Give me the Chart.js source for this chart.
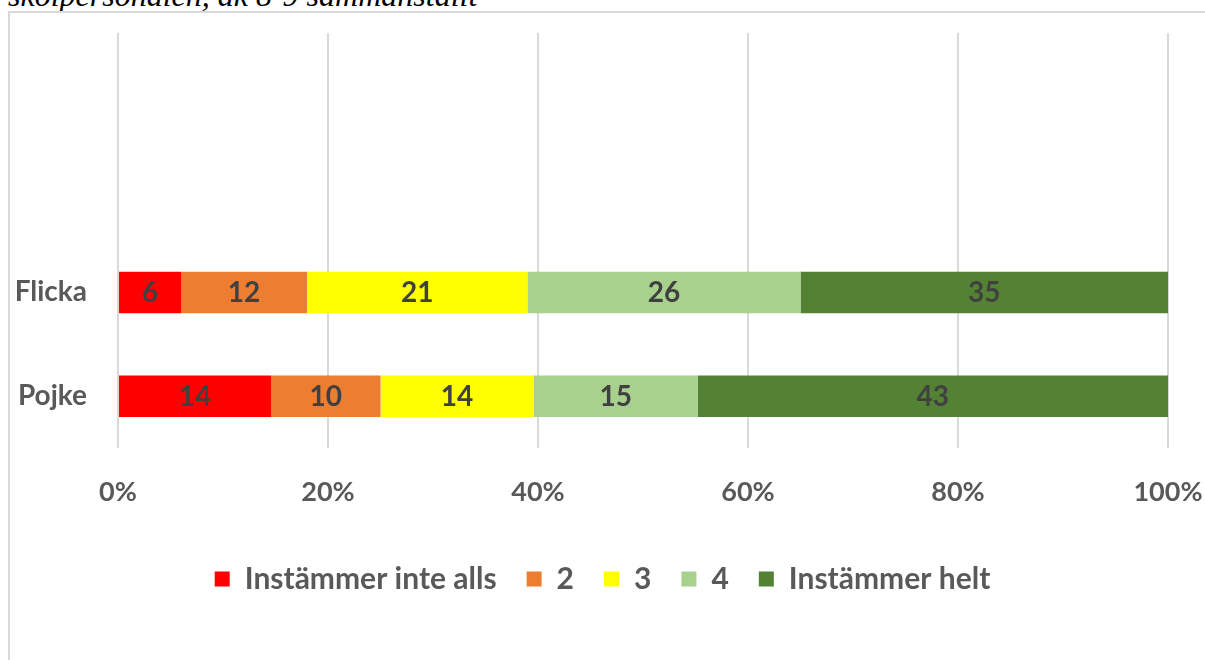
<!DOCTYPE html>
<html>
<head>
<meta charset="utf-8">
<script src="https://cdn.jsdelivr.net/npm/chart.js@4"></script>
<style>
  html, body { margin: 0; padding: 0; background: #fff; overflow: hidden; }
  #wrap { position: relative; width: 1205px; height: 660px; overflow: hidden; }
  #title { position: absolute; left: 8px; top: -21px; font: italic 32px 'Liberation Serif', 'DejaVu Serif', serif; white-space: nowrap; color: #000; line-height: 32px; }
  #frame { position: absolute; left: 8px; top: 11px; width: 1300px; height: 700px; border: 2px solid #d9d9d9; box-sizing: border-box; }
  #chart { position: absolute; left: 0; top: 0; }
</style>
</head>
<body>
<div id="wrap">
  <div id="title">skolpersonalen, åk 8-9 sammanställt</div>
  <div id="frame"></div>
  <canvas id="chart" width="1205" height="660"></canvas>
</div>
<script>
// Categories (two empty slots above, as in the source chart)
const categories = ['', '', 'Flicka', 'Pojke'];
const seriesNames = ['Instämmer inte alls', '2', '3', '4', 'Instämmer helt'];
const seriesColors = ['#FF0000', '#ED7D31', '#FFFF00', '#A9D18E', '#548235'];

// Values per answer (labels shown as-is, bars stacked to 100%)
const instammerInteAlls = [null, null, 6, 14];
const svar2 = [null, null, 12, 10];
const svar3 = [null, null, 21, 14];
const svar4 = [null, null, 26, 15];
const instammerHelt = [null, null, 35, 43];

const xTicks = [0, 20, 40, 60, 80, 100];

const seriesValues = [instammerInteAlls, svar2, svar3, svar4, instammerHelt];

// totals per category for 100% stacking
const totals = categories.map((c, j) =>
  seriesValues.reduce((s, arr) => s + (arr[j] || 0), 0));

const fontFamily = 'Lato, "Open Sans", sans-serif';
const axisFont = { family: fontFamily, size: 27, weight: 'bold' };

const valueLabels = {
  id: 'valueLabels',
  afterDatasetsDraw(chart) {
    const ctx = chart.ctx;
    ctx.save();
    ctx.font = 'bold 28px ' + fontFamily;
    ctx.fillStyle = '#404040';
    ctx.textAlign = 'center';
    ctx.textBaseline = 'middle';
    chart.data.datasets.forEach((ds, i) => {
      const meta = chart.getDatasetMeta(i);
      meta.data.forEach((bar, j) => {
        const raw = seriesValues[i][j];
        if (raw == null) return;
        const p = bar.getProps(['x', 'base', 'y'], true);
        ctx.fillText(String(raw), (p.x + p.base) / 2, p.y + 1);
      });
    });
    ctx.restore();
  }
};

new Chart(document.getElementById('chart'), {
  type: 'bar',
  data: {
    labels: categories,
    datasets: seriesNames.map((name, i) => ({
      label: name,
      data: seriesValues[i].map((v, j) => v == null ? null : v / totals[j] * 100),
      backgroundColor: seriesColors[i],
      borderWidth: 0,
      categoryPercentage: 1,
      barPercentage: 0.4
    }))
  },
  options: {
    indexAxis: 'y',
    responsive: false,
    animation: false,
    layout: { padding: { top: 33, left: 0, right: 0, bottom: 56 } },
    plugins: {
      legend: {
        position: 'bottom',
        labels: {
          font: { family: fontFamily, size: 30, weight: 'bold' },
          color: '#595959',
          boxWidth: 15,
          boxHeight: 15,
          padding: 30
        }
      },
      tooltip: { enabled: false }
    },
    scales: {
      x: {
        stacked: true,
        min: 0,
        max: 100,
        afterBuildTicks: function (scale) {
          scale.ticks = xTicks.map(v => ({ value: v }));
        },
        ticks: {
          font: axisFont,
          color: '#595959',
          padding: 28,
          callback: function (value) { return value + '%'; }
        },
        grid: { color: '#d9d9d9', lineWidth: 2, drawTicks: false },
        border: { display: false },
        afterFit: function (scale) {
          scale.height = 86;
          scale.paddingLeft = 0;
          scale.paddingRight = 37;
        }
      },
      y: {
        stacked: true,
        ticks: {
          font: { family: fontFamily, size: 28, weight: 'bold' },
          color: '#595959',
          padding: 31
        },
        grid: { display: false, drawTicks: false },
        border: { display: false },
        afterFit: function (scale) {
          scale.width = 118;
          scale.paddingTop = 0;
          scale.paddingBottom = 0;
        }
      }
    }
  },
  plugins: [valueLabels]
});
</script>
</body>
</html>
